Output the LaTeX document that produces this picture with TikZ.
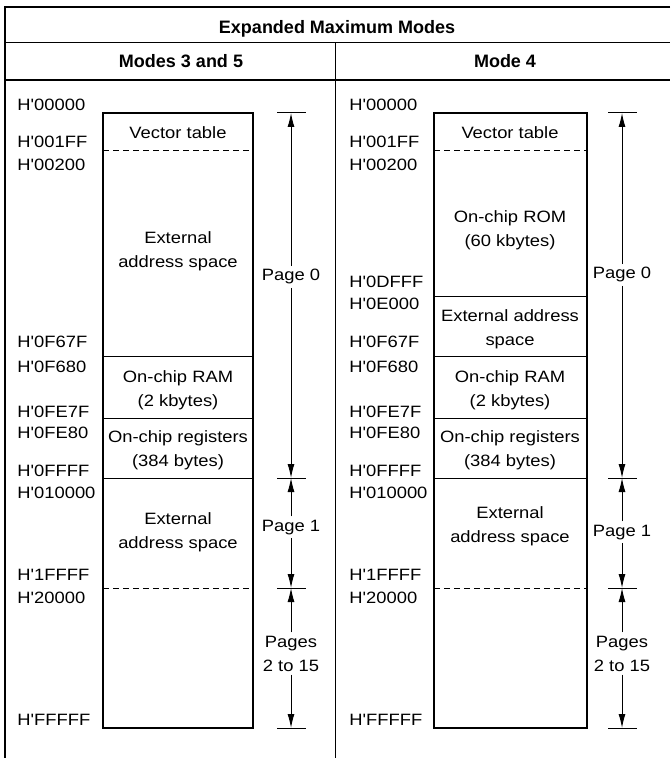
\documentclass[tikz,border=0pt]{standalone}
\usepackage{fontspec}
\setmainfont{Liberation Sans}
\newfontfamily\mapfont{Liberation Sans}[FakeStretch=1.12]
\usetikzlibrary{arrows.meta}

\begin{document}
\begin{tikzpicture}[x=0.5pt, y=-0.5pt,
  addr/.style={anchor=base west, inner sep=0pt, font=\mapfont\fontsize{8.2}{12}\selectfont},
  area/.style={anchor=base, align=center, inner sep=0pt, font=\mapfont\fontsize{8.2}{12}\selectfont},
  pagelbl/.style={anchor=base, align=center, inner sep=1.5pt, font=\mapfont\fontsize{8.2}{12}\selectfont},
  head/.style={anchor=base, inner sep=0pt, font=\bfseries\fontsize{9}{11}\selectfont},
  span/.style={line width=0.5pt, -{Latex[length=7pt, width=3.5pt]}}]

\useasboundingbox (0,0) rectangle (670,758);

% table frame
\draw[line width=1pt] (670,7) -- (5,7) -- (5,758);
\draw[line width=0.5pt] (5,43) -- (670,43);
\draw[line width=0.8pt] (5,80) -- (670,80);
\draw[line width=0.5pt] (335,43) -- (335,758);

\node[head] (title) at (337,34) {Expanded Maximum Modes};
\node[head] (modeA) at (181,68) {Modes 3 and 5};
\node[head] (modeB) at (505,68) {Mode 4};

% modes 3 and 5
\draw[line width=1pt] (103,113) rectangle (253,728);
\draw[line width=0.5pt, dash pattern=on 3pt off 2pt] (103,151) -- (253,151);
\draw[line width=0.5pt] (103,356) -- (253,356);
\draw[line width=0.5pt] (103,418) -- (253,418);
\draw[line width=0.5pt] (103,478) -- (253,478);
\draw[line width=0.5pt, dash pattern=on 3pt off 2pt] (103,588) -- (253,588);

\node[area] (vecA) at (178,139) {Vector table};
\node[area] (extA) at (178,268) {External\\address space};
\node[area] (ramA) at (178,406) {On-chip RAM\\(2 kbytes)};
\node[area] (regA) at (178,466) {On-chip registers\\(384 bytes)};
\node[area] (pgA) at (178,548) {External\\address space};

\node[addr] (a00000) at (17,110.5) {H'00000};
\node[addr] (a001FF) at (17,147.5) {H'001FF};
\node[addr] (a00200) at (17,170.5) {H'00200};
\node[addr] (a0F67F) at (17,348) {H'0F67F};
\node[addr] (a0F680) at (17,372) {H'0F680};
\node[addr] (a0FE7F) at (17,417) {H'0FE7F};
\node[addr] (a0FE80) at (17,438) {H'0FE80};
\node[addr] (a0FFFF) at (17,476) {H'0FFFF};
\node[addr] (a10000) at (17,498) {H'010000};
\node[addr] (a1FFFF) at (17,580) {H'1FFFF};
\node[addr] (a20000) at (17,603) {H'20000};
\node[addr] (aFFFFF) at (17,725) {H'FFFFF};

\draw[line width=0.5pt] (277,113) -- (306,113);
\draw[line width=0.5pt] (277,478) -- (306,478);
\draw[line width=0.5pt] (277,588) -- (306,588);
\draw[line width=0.5pt] (277,728) -- (306,728);
\coordinate (tA0) at (291,113);
\coordinate (tA1) at (291,478);
\coordinate (tA2) at (291,588);
\coordinate (tA3) at (291,728);

\node[pagelbl] (p0A) at (291,281) {Page 0};
\node[pagelbl] (p1A) at (291,531) {Page 1};
\node[pagelbl] (p2A) at (291,671) {Pages\\2 to 15};

\draw[span] (p0A) -- (tA0);
\draw[span] (p0A) -- (tA1);
\draw[span] (p1A) -- (tA1);
\draw[span] (p1A) -- (tA2);
\draw[span] (p2A) -- (tA2);
\draw[span] (p2A) -- (tA3);

% mode 4
\draw[line width=1pt] (434,113) rectangle (587,728);
\draw[line width=0.5pt, dash pattern=on 3pt off 2pt] (434,151) -- (587,151);
\draw[line width=0.5pt] (434,297) -- (587,297);
\draw[line width=0.5pt] (434,356) -- (587,356);
\draw[line width=0.5pt] (434,418) -- (587,418);
\draw[line width=0.5pt] (434,478) -- (587,478);
\draw[line width=0.5pt, dash pattern=on 3pt off 2pt] (434,588) -- (587,588);

\node[area] (vecB) at (510,139) {Vector table};
\node[area] (romB) at (510,247) {On-chip ROM\\(60 kbytes)};
\node[area] (extB) at (510,345) {External address\\space};
\node[area] (ramB) at (510,406) {On-chip RAM\\(2 kbytes)};
\node[area] (regB) at (510,466) {On-chip registers\\(384 bytes)};
\node[area] (pgB) at (510,542) {External\\address space};

\node[addr] (b00000) at (349,110.5) {H'00000};
\node[addr] (b001FF) at (349,147.5) {H'001FF};
\node[addr] (b00200) at (349,170.5) {H'00200};
\node[addr] (b0DFFF) at (349,287.5) {H'0DFFF};
\node[addr] (b0E000) at (349,310) {H'0E000};
\node[addr] (b0F67F) at (349,348) {H'0F67F};
\node[addr] (b0F680) at (349,372) {H'0F680};
\node[addr] (b0FE7F) at (349,417) {H'0FE7F};
\node[addr] (b0FE80) at (349,438) {H'0FE80};
\node[addr] (b0FFFF) at (349,476) {H'0FFFF};
\node[addr] (b10000) at (349,498) {H'010000};
\node[addr] (b1FFFF) at (349,580) {H'1FFFF};
\node[addr] (b20000) at (349,603) {H'20000};
\node[addr] (bFFFFF) at (349,725) {H'FFFFF};

\draw[line width=0.5pt] (608,113) -- (637,113);
\draw[line width=0.5pt] (608,478) -- (637,478);
\draw[line width=0.5pt] (608,588) -- (637,588);
\draw[line width=0.5pt] (608,728) -- (637,728);
\coordinate (tB0) at (622,113);
\coordinate (tB1) at (622,478);
\coordinate (tB2) at (622,588);
\coordinate (tB3) at (622,728);

\node[pagelbl] (p0B) at (622,279) {Page 0};
\node[pagelbl] (p1B) at (622,536) {Page 1};
\node[pagelbl] (p2B) at (622,671) {Pages\\2 to 15};

\draw[span] (p0B) -- (tB0);
\draw[span] (p0B) -- (tB1);
\draw[span] (p1B) -- (tB1);
\draw[span] (p1B) -- (tB2);
\draw[span] (p2B) -- (tB2);
\draw[span] (p2B) -- (tB3);

\end{tikzpicture}
\end{document}
